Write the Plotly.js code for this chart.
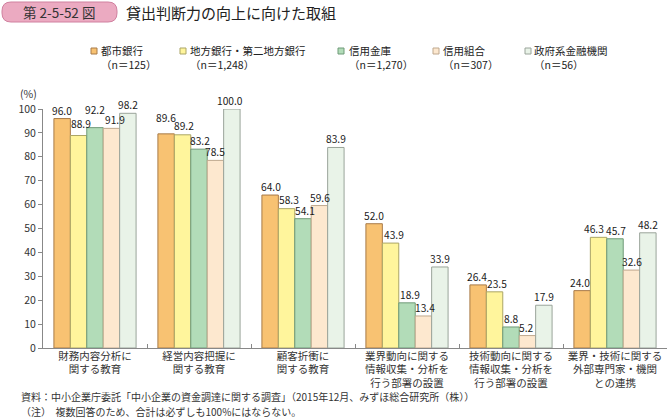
<!DOCTYPE html>
<html><head><meta charset="utf-8">
<script src="https://cdn.plot.ly/plotly-3.0.1.min.js"></script>
<style>html,body{margin:0;padding:0;background:#fff}#chart{width:668px;height:418px}</style>
</head><body><div id="chart"></div>
<script>
const categories = ["財務内容分析に<br>関する教育","経営内容把握に<br>関する教育","顧客折衝に<br>関する教育","業界動向に関する<br>情報収集・分析を<br>行う部署の設置","技術動向に関する<br>情報収集・分析を<br>行う部署の設置","業界・技術に関する<br>外部専門家・機関<br>との連携"];
const seriesNames = ["都市銀行","地方銀行・第二地方銀行","信用金庫","信用組合","政府系金融機関"];
const seriesN = ["（n＝125）","（n＝1,248）","（n＝1,270）","（n＝307）","（n＝56）"];
const toshiGinko = [96.0, 89.6, 64.0, 52.0, 26.4, 24.0];
const chihoGinko = [88.9, 89.2, 58.3, 43.9, 23.5, 46.3];
const shinyoKinko = [92.2, 83.2, 54.1, 18.9, 8.8, 45.7];
const shinyoKumiai = [91.9, 78.5, 59.6, 13.4, 5.2, 32.6];
const seifukei = [98.2, 100.0, 83.9, 33.9, 17.9, 48.2];
const yTicks = [0,10,20,30,40,50,60,70,80,90,100];

const seriesValues = [toshiGinko, chihoGinko, shinyoKinko, shinyoKumiai, seifukei];
const fills = ["#F8C272","#FFF59C","#B2DCB8","#FDE8CF","#E9F3E8"];
const borders = ["#A87A48","#ABA566","#6F9A78","#BFA88E","#9AA49A"];
const FONT = '"Noto Sans CJK JP", "Noto Sans", sans-serif';

// plot area in pixels
const L = 43, R = 667, T = 109, B = 348;
const px = p => (p - L) / (R - L);
const py = p => (B - p) / (B - T);
const BARGAP = 0.21;
const barPx = (R - L) / categories.length * (1 - BARGAP) / seriesValues.length;

// label nudges (pixels) [series][category] to avoid overlaps as in the reference
const labelDY = [[0,8,0,0,0,0],[4,1,1,0,0,0],[10,0,0,0,0,0],[0,0,0,0,0,0],[0,0,0,0,0,0]];
const labelDX = [[0,0,0.5,0,-1,-2],[2,1.5,2.5,3,2,-4.5],[0,0.5,2,3,0,1],[3.5,0,0.5,2,-1,0.5],[0,-2,0,0,0,0]];

const traces = seriesValues.map((vals, i) => ({
  type: 'bar', name: seriesNames[i], x: categories, y: vals,
  marker: {color: fills[i], line: {color: borders[i], width: 1}},
  hoverinfo: 'skip', showlegend: false
}));

const shapes = [];
const annotations = [];

// value labels, placed on the data through the axes
seriesValues.forEach((vals, i) => {
  vals.forEach((v, j) => {
    annotations.push({
      xref: 'x', yref: 'y', x: categories[j], y: v, text: v.toFixed(1),
      showarrow: false, xanchor: 'center', yanchor: 'middle',
      xshift: (i - (seriesValues.length - 1) / 2) * barPx + labelDX[i][j],
      yshift: 8.5 + labelDY[i][j],
      font: {family: FONT, size: 10.2, color: '#1a1a1a'}
    });
  });
});

// title pill
(function(){
  const x0 = 2, x1 = 117, y0 = 2, y1 = 22, r = 9;
  const path = `M ${px(x0+r)},${py(y0)} L ${px(x1-r)},${py(y0)} Q ${px(x1)},${py(y0)} ${px(x1)},${py(y0+r)} L ${px(x1)},${py(y1-r)} Q ${px(x1)},${py(y1)} ${px(x1-r)},${py(y1)} L ${px(x0+r)},${py(y1)} Q ${px(x0)},${py(y1)} ${px(x0)},${py(y1-r)} L ${px(x0)},${py(y0+r)} Q ${px(x0)},${py(y0)} ${px(x0+r)},${py(y0)} Z`;
  shapes.push({type:'path', xref:'paper', yref:'paper', path, fillcolor:'#EBAAC1', line:{color:'#D0809F', width:1}});
})();
annotations.push({xref:'paper', yref:'paper', x:px(59), y:py(12), text:'第 2-5-52 図', showarrow:false, xanchor:'center', yanchor:'middle', font:{family:FONT, size:13.5, color:'#333'}});
annotations.push({xref:'paper', yref:'paper', x:px(124), y:py(12), text:'貸出判断力の向上に向けた取組', showarrow:false, xanchor:'left', yanchor:'middle', font:{family:FONT, size:15, color:'#222'}});

// legend (manual)
const legMarkX = [91, 180, 338, 433, 525];
const legTextX = [99, 188, 347, 441, 532];
legMarkX.forEach((mx, i) => {
  shapes.push({type:'rect', xref:'paper', yref:'paper', x0:px(mx), x1:px(mx+6), y0:py(48), y1:py(54), fillcolor:fills[i], line:{color:borders[i], width:1}});
  annotations.push({xref:'paper', yref:'paper', x:px(legTextX[i]), y:py(57.5), text:seriesNames[i] + '<br>' + seriesN[i], showarrow:false, xanchor:'left', yanchor:'middle', align:'left', font:{family:FONT, size:10.5, color:'#222'}});
});

// (%) unit
annotations.push({xref:'paper', yref:'paper', x:px(39), y:py(93), text:'(%)', showarrow:false, xanchor:'right', yanchor:'middle', font:{family:FONT, size:10.5, color:'#333'}});

// footer
annotations.push({xref:'paper', yref:'paper', x:px(19), y:py(396.5), text:'資料：中小企業庁委託「中小企業の資金調達に関する調査」（2015年12月、みずほ総合研究所（株））', showarrow:false, xanchor:'left', yanchor:'middle', font:{family:FONT, size:10, color:'#333'}});
annotations.push({xref:'paper', yref:'paper', x:px(19), y:py(411.5), text:'（注）  複数回答のため、合計は必ずしも100%にはならない。', showarrow:false, xanchor:'left', yanchor:'middle', font:{family:FONT, size:10, color:'#333'}});

const layout = {
  width: 668, height: 418,
  margin: {l: L, r: 668 - R, t: T, b: 418 - B, pad: 0},
  paper_bgcolor: '#fff', plot_bgcolor: '#fff',
  font: {family: FONT, size: 10.5, color: '#333'},
  barmode: 'group', bargap: BARGAP, bargroupgap: 0,
  showlegend: false,
  xaxis: {
    type: 'category', showline: true, linecolor: '#888', linewidth: 1,
    ticks: 'inside', tickson: 'boundaries', ticklen: 4, tickcolor: '#888',
    ticklabelstandoff: -2,
    showgrid: false, zeroline: false,
    tickfont: {family: FONT, size: 10.5, color: '#333'}, automargin: false
  },
  yaxis: {
    range: [0, 100], tickvals: yTicks, ticktext: yTicks.map(String),
    showline: true, linecolor: '#888', linewidth: 1,
    ticks: 'outside', ticklen: 4, tickcolor: '#888',
    showgrid: false, zeroline: false,
    tickfont: {family: FONT, size: 10.5, color: '#333'}, automargin: false
  },
  shapes, annotations
};

Plotly.newPlot('chart', traces, layout, {staticPlot: true, displayModeBar: false});
</script>
</body></html>
